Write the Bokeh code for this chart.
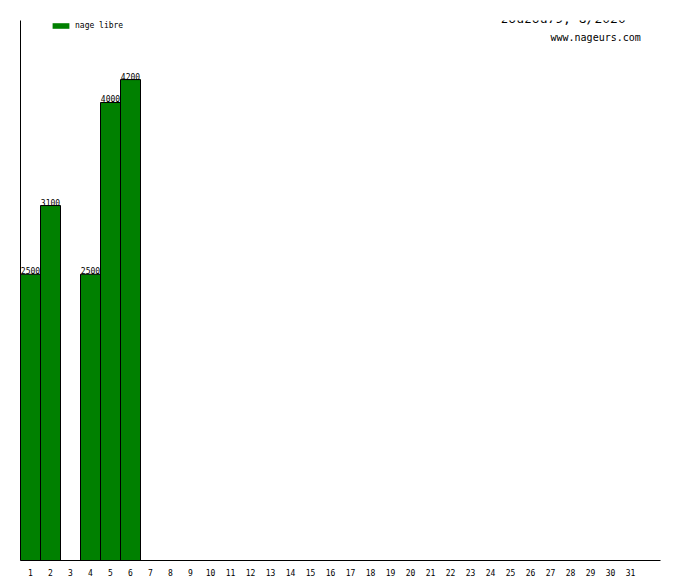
from bokeh.plotting import figure
from bokeh.models import Range1d, FixedTicker, Label, Legend, LegendItem
from bokeh.embed import file_html
from bokeh.resources import INLINE
from bokeh.core.properties import value

# ---- data ----
days = list(range(1, 32))
bar_days = [1, 2, 4, 5, 6]
bar_values = [2500, 3100, 2500, 4000, 4200]
series_name = "nage libre"
title_text = "zouzou79, 8/2020"
site_text = "www.nageurs.com"

FONT = "DejaVu Sans Mono"
GREEN = "#008000"
FH = 540

p = figure(width=680, height=580,
           min_border_left=20, min_border_right=20,
           min_border_top=20, min_border_bottom=20,
           x_range=Range1d(0.5, 32.5), y_range=Range1d(0, 4716),
           output_backend="svg", toolbar_location=None)

p.xgrid.visible = False
p.ygrid.visible = False
p.outline_line_color = None
p.background_fill_color = "white"
p.border_fill_color = "white"

# y axis: bare line only
p.yaxis.ticker = FixedTicker(ticks=[])
p.yaxis.major_tick_line_color = None
p.yaxis.minor_tick_line_color = None
p.yaxis.major_label_standoff = 0
p.yaxis.major_tick_out = 0
p.yaxis.axis_line_color = "black"

# x axis
p.xaxis.ticker = FixedTicker(ticks=days)
p.xaxis.major_tick_line_color = None
p.xaxis.minor_tick_line_color = None
p.xaxis.major_tick_out = 0
p.xaxis.major_label_standoff = 8
p.xaxis.major_label_text_font = FONT
p.xaxis.major_label_text_font_size = "8px"
p.xaxis.major_label_text_color = "black"
p.xaxis.axis_line_color = "black"

# bars
p.vbar(x=bar_days, top=bar_values, width=1, bottom=0,
       fill_color=GREEN, line_color="black", line_width=1)

# value labels
p.text(x=bar_days, y=bar_values, text=[str(v) for v in bar_values],
       text_font=value(FONT), text_font_size="8px",
       text_align="center", text_baseline="bottom", text_color="black")

# legend swatch renderer (zero-height, no outline)
swatch = p.vbar(x=bar_days[:1], top=0, bottom=0, width=1,
                fill_color=GREEN, line_color=None)
legend = Legend(items=[LegendItem(label=series_name, renderers=[swatch])],
                location=(30, FH - 10),
                glyph_width=21, glyph_height=7, label_height=7,
                label_text_font=FONT, label_text_font_size="8px",
                label_text_color="black",
                label_standoff=4, padding=0, margin=0, spacing=0,
                border_line_color=None, background_fill_alpha=0)
p.add_layout(legend)

# titles
p.add_layout(Label(x=480, y=FH + 2, x_units="screen", y_units="screen",
                   text=title_text, text_font=FONT, text_font_size="13px",
                   text_baseline="middle", text_align="left", text_color="black"))
p.add_layout(Label(x=530, y=FH - 17, x_units="screen", y_units="screen",
                   text=site_text, text_font=FONT, text_font_size="10px",
                   text_baseline="middle", text_align="left", text_color="black"))

open("out.html", "w").write(file_html(p, INLINE))
